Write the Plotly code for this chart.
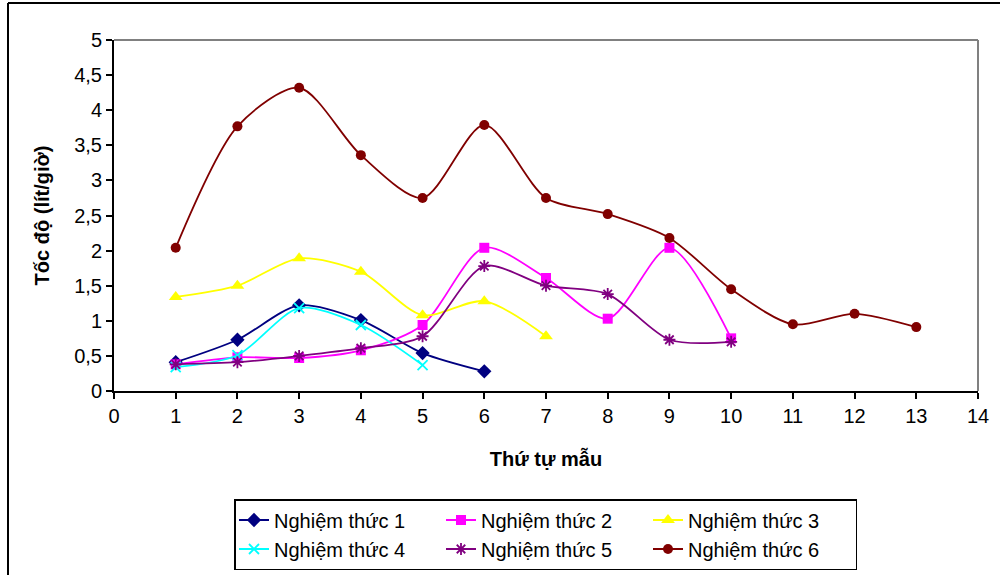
import plotly.graph_objects as go

x_vals = list(range(1, 14))

nt1 = [0.41, 0.73, 1.22, 1.01, 0.54, 0.28]
nt2 = [0.38, 0.48, 0.47, 0.58, 0.94, 2.04, 1.61, 1.03, 2.04, 0.75]
nt3 = [1.34, 1.50, 1.89, 1.70, 1.08, 1.28, 0.78]
nt4 = [0.34, 0.51, 1.18, 0.94, 0.37]
nt5 = [0.38, 0.41, 0.50, 0.61, 0.78, 1.78, 1.50, 1.38, 0.73, 0.70]
nt6 = [2.04, 3.77, 4.32, 3.36, 2.75, 3.79, 2.75, 2.52, 2.18, 1.45, 0.95, 1.10, 0.91]

names = ["Nghiệm thức 1", "Nghiệm thức 2", "Nghiệm thức 3",
         "Nghiệm thức 4", "Nghiệm thức 5", "Nghiệm thức 6"]
series = [nt1, nt2, nt3, nt4, nt5, nt6]
colors = ["#000080", "#FF00FF", "#FFFF00", "#00FFFF", "#800080", "#800000"]
symbols = ["diamond", "square", "triangle-up", "x-thin-open", "asterisk-open", "circle"]
sizes = [11, 10, 12, 10, 10, 10]
groups = ["c1", "c2", "c3", "c1", "c2", "c3"]  # legend columns

fig = go.Figure()
for name, ys, c, s, sz, g in zip(names, series, colors, symbols, sizes, groups):
    marker = dict(symbol=s, size=sz, color=c)
    if s.endswith("-open"):
        marker["line"] = dict(color=c, width=1.8)
    fig.add_trace(go.Scatter(
        x=x_vals[:len(ys)], y=ys, name=name, mode="lines+markers",
        line=dict(color=c, width=1.8, shape="spline", smoothing=0.8),
        marker=marker, legendgroup=g,
    ))

L, R, T, B = 114, 978, 40, 391
W, H = 1000, 575
pw, ph = R - L, B - T

def px(xp):
    return (xp - L) / pw

def py(yp):
    return (B - yp) / ph

font = "Liberation Sans, Arial, sans-serif"
fs = 20

fig.update_layout(
    width=W, height=H,
    margin=dict(l=L, r=W - R, t=T, b=H - B, autoexpand=False),
    paper_bgcolor="white", plot_bgcolor="white",
    separators=", ",
    font=dict(family=font, size=fs, color="black"),
    showlegend=True,
    legend=dict(
        orientation="h", x=px(234), y=py(499), xanchor="left", yanchor="top",
        bordercolor="black", borderwidth=1.5, bgcolor="white",
        font=dict(family=font, size=20, color="black"),
        entrywidth=162, entrywidthmode="pixels",
        traceorder="grouped", tracegroupgap=0,
        groupclick="toggleitem",
    ),
    xaxis=dict(
        range=[0, 14], dtick=1, tick0=0, showgrid=False, zeroline=False,
        showline=True, linecolor="black", linewidth=2,
        ticks="outside", ticklen=6, tickcolor="black", tickwidth=1.5,
        tickfont=dict(family=font, size=fs),
        title=dict(text="<b>Thứ tự mẫu</b>", font=dict(family=font, size=fs), standoff=26),
    ),
    yaxis=dict(
        range=[0, 5], dtick=0.5, tick0=0, showgrid=False, zeroline=False,
        showline=True, linecolor="black", linewidth=2,
        ticks="outside", ticklen=6, tickcolor="black", tickwidth=1.5,
        tickfont=dict(family=font, size=fs),
        title=dict(text="<b>Tốc độ (lít/giờ)</b>", font=dict(family=font, size=fs), standoff=19),
    ),
    shapes=[
        dict(type="line", xref="paper", yref="paper", x0=0, x1=1, y0=1, y1=1,
             line=dict(color="#808080", width=2), layer="below"),
        dict(type="line", xref="paper", yref="paper", x0=1, x1=1, y0=0, y1=1,
             line=dict(color="#808080", width=2), layer="below"),
        dict(type="line", xref="paper", yref="paper", x0=px(8), x1=px(1005), y0=py(3), y1=py(3),
             line=dict(color="black", width=2)),
        dict(type="line", xref="paper", yref="paper", x0=px(8), x1=px(8), y0=py(3), y1=py(580),
             line=dict(color="black", width=2)),
    ],
)

fig.write_html("out.html")
